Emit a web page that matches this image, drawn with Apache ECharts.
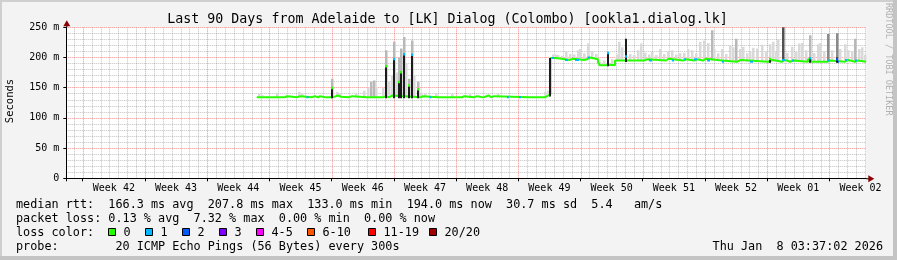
<!DOCTYPE html>
<html><head><meta charset="utf-8">
<script src="https://cdn.jsdelivr.net/npm/echarts@6/dist/echarts.min.js"></script>
<style>html,body{margin:0;padding:0;background:#f3f3f3}#c{width:897px;height:260px}</style>
</head><body><div id="c"></div>
<script>
const FONT = '"DejaVu Sans Mono", monospace';
const titleText = 'Last 90 Days from Adelaide to [LK] Dialog (Colombo) [ookla1.dialog.lk]';
const weekLabels = ['Week 42','Week 43','Week 44','Week 45','Week 46','Week 47','Week 48','Week 49','Week 50','Week 51','Week 52','Week 01','Week 02'];
const yTickLabels = ['0','50 m','100 m','150 m','200 m','250 m'];
const lossColors = ['#26ff00','#00b8ff','#0059ff','#7e00ff','#ff00ff','#ff5500','#ff0000','#a10000'];
const lossLabels = ['0','1','2','3','4-5','6-10','11-19','20/20'];
const statsRtt  = 'median rtt:  166.3 ms avg  207.8 ms max  133.0 ms min  194.0 ms now  30.7 ms sd  5.4   am/s';
const statsLoss = 'packet loss: 0.13 % avg  7.32 % max  0.00 % min  0.00 % now';
const probeText = 'probe:        20 ICMP Echo Pings (56 Bytes) every 300s';
const dateText  = 'Thu Jan  8 03:37:02 2026';
const sideText  = 'RRDTOOL / TOBI OETIKER';

// x = days since window start (Fri Oct 10 2025 03:37); median change points [day, ms]
const median = [
 [21.42,134],[24.60,136],[24.83,134],[25.95,136],[26.29,134],[27.64,136],[27.97,134],[28.31,136],[28.54,134],
 [29.21,136],[29.43,134],[29.99,137],[30.56,135],[30.90,134],[31.80,136],[32.13,134],[33.83,136],[34.05,134],
 [35.63,136],[35.97,134],[36.30,137],[36.64,134],[39.90,136],[40.13,134],[41.82,137],[42.04,134],[44.52,136],
 [44.75,134],[45.87,136],[46.21,134],[46.88,137],[47.55,134],[47.78,136],[48.12,134],[52.17,135],[52.39,134],
 [53.85,137],[54.19,139],[54.47,199],[55.09,197],[56.10,196],[56.67,198],[57.00,196],[58.24,197],[58.58,200],
 [58.91,197],[59.82,192],[60.04,187],[60.72,188],[61.06,187],[61.73,195],[65.00,197],[65.33,195],[67.47,198],
 [67.80,195],[69.38,197],[69.72,195],[70.61,197],[70.95,195],[71.63,198],[71.97,195],[73.77,193],[75.45,196],
 [75.90,193],[78.94,196],[79.50,193],[80.52,196],[80.86,193],[81.42,195],[81.76,193],[83.44,197],[83.78,193],
 [85.58,195],[85.91,193],[87.60,196],[87.94,193],[88.73,195],[89.07,193],[89.97,194]
];
// periods with packet loss [startDay, endDay, lossClass]
const lossSegs = [
 [27.02,27.25,1],[40.86,41.08,1],[49.58,49.80,1],[50.93,51.15,1],[54.64,54.87,1],[56.10,56.44,1],[57.23,57.68,1],
 [58.63,58.91,1],[65.55,65.89,1],[68.14,68.37,1],[69.49,69.72,1],[70.61,70.95,1],[72.08,72.42,1],[73.77,73.99,1],
 [76.92,77.25,1],[80.52,80.86,1],[81.64,81.87,1],[85.58,85.91,1],[86.70,86.93,2],[87.60,87.82,1],[88.73,88.96,1]
];
// short median excursions [day, base ms, top ms, median ms, lossClass]
const spikes = [
 [29.86,134,150,150,0],[35.93,134,186,186,0],[36.90,134,198,198,1],[37.43,134,160,160,0],[37.65,134,176,176,0],
 [37.94,134,206,206,1],[38.55,134,154,154,0],[38.86,134,205,205,1],[39.53,134,148,148,0],[54.47,137,199,-1,-1],
 [60.91,187,208,208,1],[63.00,194,231,202,1],[79.17,193,198,198,0],[83.67,193,201,199,1],[86.67,193,200,197,2]
];
// smoke (ping spread) tops [day, top ms, shade]
const smoke = [
 [21.68,140,0],[22.01,138,0],[23.70,141,0],[26.18,143,0],[26.51,141,0],[29.86,165,1],[30.45,143,0],[30.79,141,0],
 [32.59,140,0],[33.49,145,0],[33.94,150,0],[34.28,160,1],[34.56,162,1],[34.84,152,0],[35.63,150,0],[35.93,212,1],
 [36.30,160,0],[36.64,170,0],[36.90,226,1],[37.20,175,0],[37.43,200,1],[37.65,215,1],[37.94,234,1],[38.22,190,0],
 [38.55,165,1],[38.86,228,1],[39.12,170,0],[39.53,160,1],[39.90,142,0],[40.35,140,0],[41.59,141,0],[43.39,140,0],
 [45.41,139,0],[48.56,140,0],[53.85,143,0],[54.19,145,0],
 [54.75,205,0],[55.09,205,0],[55.32,204,0],[55.77,203,0],[56.22,210,0],[56.67,206,0],[57.12,205,0],[57.57,212,0],
 [57.79,214,0],[58.24,207,0],[58.69,223,0],[59.14,210,0],[59.59,206,0],[60.04,193,0],[60.49,195,0],[61.39,197,0],
 [61.95,205,0],[62.18,226,0],[62.52,217,0],[63.42,206,0],[63.87,204,0],[64.32,212,0],[64.65,223,0],[65.10,208,0],
 [65.55,205,0],[65.89,209,0],[66.34,204,0],[66.79,214,0],[67.24,206,0],[67.69,210,0],[68.14,212,0],[68.59,205,0],
 [69.04,207,0],[69.49,208,0],[69.94,214,0],[70.39,212,0],[70.84,207,0],[71.29,226,0],[71.74,228,0],[72.19,224,0],
 [72.61,245,1],[72.87,215,0],[73.32,207,0],[73.77,214,0],[74.22,206,0],[74.67,220,0],[75.00,217,0],[75.34,231,1],
 [75.79,214,0],[76.13,218,0],[76.58,207,0],[76.92,209,0],[77.25,216,0],[77.70,215,0],[78.27,221,0],[78.72,210,0],
 [79.17,222,0],[79.50,226,0],[79.84,210,0],[80.07,230,0],[80.66,252,3],[81.08,208,0],[81.64,218,0],[82.09,209,0],
 [82.43,223,0],[82.77,224,0],[83.22,212,0],[83.67,237,1],[84.12,207,0],[84.57,222,0],[84.79,224,0],[85.24,210,0],
 [85.64,239,2],[86.14,212,0],[86.67,240,2],[87.04,214,0],[87.60,222,0],[87.94,212,0],[88.39,210,0],[88.73,231,1],
 [89.18,214,0],[89.52,217,0],[89.85,205,0]
];
const smokeShades = ['#d9d9d9','#b8b8b8','#8a8a8a','#505050'];

function medianAt(d){ let v = median[0][1]; for (const p of median){ if (p[0] <= d + 1e-9) v = p[1]; else break; } return v; }

// axis ticks: midnights (first at Oct 11 00:00), Sundays are every 7th
const firstMidnight = 0.849, firstSunday = 1.849;
const vgrid = []; for (let k = 0; firstMidnight + k < 90; k++) vgrid.push([firstMidnight + k, (k % 7 === 1) ? 1 : 0]);
const sundays = []; for (let k = 0; k < weekLabels.length; k++) sundays.push(firstSunday + 7 * k);
const labelPos = sundays.map(s => s + 3.5);

const MAJOR = 'rgba(255,0,0,0.45)', MINOR = 'rgba(100,100,100,0.4)';
const chart = echarts.init(document.getElementById('c'), null, {renderer: 'canvas', width: 897, height: 260});
const GRID = {left: 66.3, top: 27.3, width: 800, height: 151};
const TXT = {fontFamily: FONT, fill: '#000'};

const option = {
  animation: false,
  backgroundColor: '#f3f3f3',
  grid: Object.assign({show: true, backgroundColor: '#ffffff', borderWidth: 0}, GRID),
  xAxis: {
    type: 'value', min: 0, max: 90,
    axisLine: {show: true, lineStyle: {color: '#000', width: 1}},
    axisTick: {show: true, customValues: [0].concat(sundays), length: 3, lineStyle: {color: '#000'}},
    axisLabel: {customValues: labelPos, fontFamily: FONT, fontSize: 10, color: '#000', margin: 5,
      formatter: v => weekLabels[Math.round((v - labelPos[0]) / 7)] || ''},
    splitLine: {show: false}
  },
  yAxis: {
    type: 'value', min: 0, max: 250, interval: 50,
    axisLine: {show: true, lineStyle: {color: '#000', width: 1}},
    axisTick: {show: true, length: 3, lineStyle: {color: '#000'}},
    axisLabel: {fontFamily: FONT, fontSize: 10, color: '#000', margin: 7,
      formatter: v => yTickLabels[Math.round(v / 50)]},
    splitLine: {show: true, lineStyle: {color: MAJOR, type: [1, 1], width: 1}},
    minorTick: {show: false, splitNumber: 5},
    minorSplitLine: {show: true, lineStyle: {color: MINOR, type: [1, 1], width: 1}}
  },
  series: [
    {
      type: 'custom', name: 'vgrid', z: 1, silent: true, clip: true,
      data: vgrid, encode: {x: 0},
      renderItem: (params, api) => {
        const d = api.value(0), major = api.value(1);
        const p0 = api.coord([d, 0]), p1 = api.coord([d, 250]);
        const x = Math.round(p0[0]) + 0.5;
        return {type: 'line', shape: {x1: x, y1: p0[1], x2: x, y2: p1[1]},
          style: {stroke: major ? MAJOR : MINOR, lineWidth: 1, lineDash: [1, 1]}};
      }
    },
    {
      type: 'custom', name: 'smoke', z: 2, silent: true, clip: true,
      data: smoke, encode: {x: 0, y: 1},
      renderItem: (params, api) => {
        const d = api.value(0), top = api.value(1), shade = api.value(2);
        const low = medianAt(d);
        const pt = api.coord([d, top]), pb = api.coord([d, low]);
        return {type: 'rect', shape: {x: Math.round(pt[0]) - 1, y: pt[1], width: 2.5, height: pb[1] - pt[1]},
          style: {fill: smokeShades[shade]}};
      }
    },
    {
      type: 'line', name: 'median', z: 3, silent: true, step: 'end', symbol: 'none',
      data: median, lineStyle: {color: lossColors[0], width: 2}
    },
    {
      type: 'custom', name: 'loss', z: 4, silent: true, clip: true,
      data: lossSegs, encode: {x: [0, 1]},
      renderItem: (params, api) => {
        const d0 = api.value(0), d1 = api.value(1), l = api.value(2);
        const v = medianAt(d0);
        const a = api.coord([d0, v]), b = api.coord([d1, v]);
        return {type: 'line', shape: {x1: a[0], y1: a[1], x2: b[0], y2: b[1]},
          style: {stroke: lossColors[l], lineWidth: 2}};
      }
    },
    {
      type: 'custom', name: 'spikes', z: 5, silent: true, clip: true,
      data: spikes, encode: {x: 0, y: 2},
      renderItem: (params, api) => {
        const d = api.value(0), base = api.value(1), top = api.value(2), tip = api.value(3), l = api.value(4);
        const pb = api.coord([d, base]), pt = api.coord([d, top]);
        const x = Math.round(pb[0]) - 1;
        const children = [{type: 'rect', shape: {x: x, y: pt[1], width: 2, height: pb[1] - pt[1] + 1}, style: {fill: '#1c1c1c'}}];
        if (l >= 0) {
          const pm = api.coord([d, tip]);
          children.push({type: 'rect', shape: {x: x, y: pm[1] - 1, width: 2, height: 2.5}, style: {fill: lossColors[l]}});
        }
        return {type: 'group', children: children};
      }
    }
  ]
};
chart.setOption(option);

// decorations
const o = chart.convertToPixel({gridIndex: 0}, [0, 0]);
const xe = chart.convertToPixel({gridIndex: 0}, [90, 0]);
const yt = chart.convertToPixel({gridIndex: 0}, [0, 250]);
const g = [];
// frame
g.push({type: 'rect', shape: {x: 0, y: 0, width: 897, height: 2}, style: {fill: '#cfcfcf'}, silent: true});
g.push({type: 'rect', shape: {x: 0, y: 0, width: 2, height: 260}, style: {fill: '#cfcfcf'}, silent: true});
g.push({type: 'rect', shape: {x: 0, y: 256, width: 897, height: 4}, style: {fill: '#c4c4c4'}, silent: true});
g.push({type: 'rect', shape: {x: 893, y: 0, width: 4, height: 260}, style: {fill: '#c4c4c4'}, silent: true});
// axis extensions and arrows
g.push({type: 'line', shape: {x1: xe[0], y1: xe[1] + 0.5, x2: xe[0] + 3, y2: xe[1] + 0.5}, style: {stroke: '#000', lineWidth: 1}, z: 10});
g.push({type: 'polygon', shape: {points: [[xe[0] + 2, xe[1] - 3], [xe[0] + 8, xe[1] + 0.5], [xe[0] + 2, xe[1] + 4]]}, style: {fill: '#8b0000'}, z: 10});
g.push({type: 'line', shape: {x1: o[0] + 0.5, y1: yt[1], x2: o[0] + 0.5, y2: yt[1] - 2}, style: {stroke: '#000', lineWidth: 1}, z: 10});
g.push({type: 'polygon', shape: {points: [[o[0] - 3, yt[1] - 1], [o[0] + 0.5, yt[1] - 7], [o[0] + 4, yt[1] - 1]]}, style: {fill: '#8b0000'}, z: 10});
// texts
g.push({type: 'text', x: 447.5, y: 19.3, style: Object.assign({}, TXT, {text: titleText, fontSize: 13.3, textAlign: 'center', textVerticalAlign: 'middle'}), z: 10});
g.push({type: 'text', x: 10.7, y: 101, rotation: Math.PI / 2, style: Object.assign({}, TXT, {text: 'Seconds', fontSize: 10.5, textAlign: 'center', textVerticalAlign: 'middle'}), z: 10});
g.push({type: 'text', x: 888.5, y: 3, rotation: -Math.PI / 2, style: {text: sideText, fontFamily: FONT, fontSize: 8.5, fill: '#b0b0b0', textAlign: 'left', textVerticalAlign: 'middle'}, z: 10});
const LF = 11.8;
g.push({type: 'text', x: 16, y: 204.5, style: Object.assign({}, TXT, {text: statsRtt, fontSize: LF, textVerticalAlign: 'middle'}), z: 10});
g.push({type: 'text', x: 16, y: 218.5, style: Object.assign({}, TXT, {text: statsLoss, fontSize: LF, textVerticalAlign: 'middle'}), z: 10});
g.push({type: 'text', x: 16, y: 232.5, style: Object.assign({}, TXT, {text: 'loss color:', fontSize: LF, textVerticalAlign: 'middle'}), z: 10});
g.push({type: 'text', x: 16, y: 246.5, style: Object.assign({}, TXT, {text: probeText, fontSize: LF, textVerticalAlign: 'middle'}), z: 10});
g.push({type: 'text', x: 883, y: 246.5, style: Object.assign({}, TXT, {text: dateText, fontSize: LF, textAlign: 'right', textVerticalAlign: 'middle'}), z: 10});
const boxX = [108.5, 145.5, 182.5, 219.5, 256.5, 307.5, 368.5, 429.5];
lossLabels.forEach((lab, i) => {
  g.push({type: 'rect', shape: {x: boxX[i], y: 228.5, width: 7, height: 7}, style: {fill: lossColors[i], stroke: '#000', lineWidth: 1}, z: 10});
  g.push({type: 'text', x: boxX[i] + 15, y: 232.5, style: Object.assign({}, TXT, {text: lab, fontSize: LF, textVerticalAlign: 'middle'}), z: 10});
});
chart.setOption({graphic: g});
</script></body></html>
